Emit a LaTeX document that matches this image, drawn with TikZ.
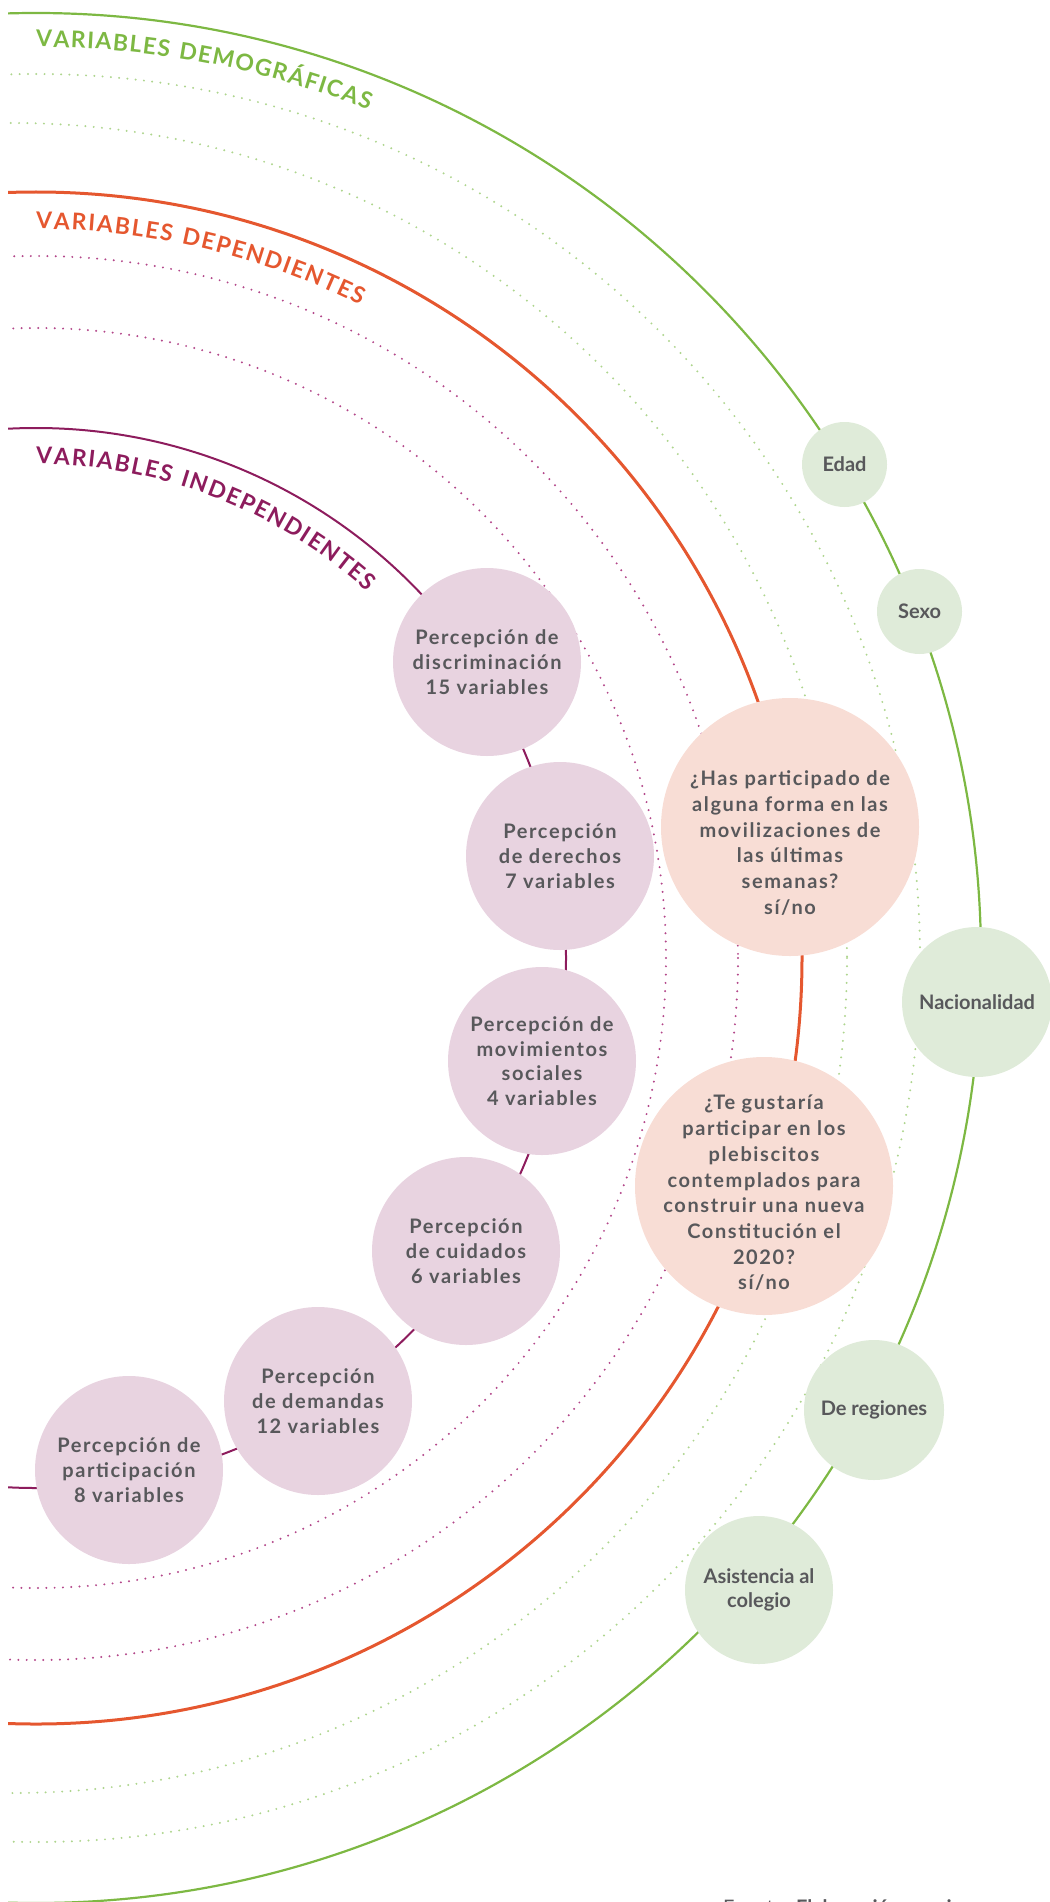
\documentclass[tikz,border=0pt]{standalone}
\usepackage{fontspec}
\setmainfont{Lato}
\newfontfamily\circfont[LetterSpace=8]{Lato}
\newfontfamily\titlefam[LetterSpace=4]{Lato}
\usetikzlibrary{decorations.text}
\definecolor{cgreen}{HTML}{7DB843}
\definecolor{corange}{HTML}{E5572F}
\definecolor{cpurple}{HTML}{8D1C5D}
\definecolor{cgreendot}{HTML}{AED58E}
\definecolor{cpurpledot}{HTML}{B3478A}
\definecolor{fpurple}{HTML}{E8D3E0}
\definecolor{fpink}{HTML}{F8DDD5}
\definecolor{fgreen}{HTML}{DFEBD9}
\definecolor{tgray}{HTML}{58585B}
\newcommand\titlefont{\titlefam\fontsize{23}{27}\selectfont\bfseries}
\begin{document}
\begin{tikzpicture}[x=1pt,y=-1pt,
  greenline/.style={draw=cgreen, line width=2.2pt},
  orangeline/.style={draw=corange, line width=3pt},
  purpleline/.style={draw=cpurple, line width=2pt},
  greendot/.style={draw=cgreendot, line width=2.2pt, line cap=round, dash pattern=on 0pt off 8.3pt},
  purpledot/.style={draw=cpurpledot, line width=2.2pt, line cap=round, dash pattern=on 0pt off 8.3pt},
  txt/.style={text=tgray, align=center, inner sep=0pt},
  pcirc/.style={circle, fill=fpurple, minimum size=188, inner sep=0pt, txt, font=\circfont\bfseries\fontsize{20}{24.7}\selectfont},
  pinkc/.style={circle, fill=fpink, minimum size=258, inner sep=0pt},
  pinktxt/.style={txt, font=\circfont\bfseries\fontsize{20}{25.7}\selectfont},
  greenc/.style={circle, fill=fgreen, inner sep=0pt, txt, font=\bfseries\fontsize{20}{24}\selectfont},
  titletext/.style={decorate, decoration={text along path, text align=fit to path, text={#1}}}
]
\useasboundingbox (0,0) rectangle (1049,1902);
\coordinate (C) at (36,958);
\coordinate (C2) at (12,958);
\begin{scope}
  \clip (8,0) rectangle (1049,1902);
  \draw[greendot] (C2) circle[radius=835];
  \draw[greendot] (C) circle[radius=884];
  \draw[purpledot] (C) circle[radius=702];
  \draw[purpledot] (C) circle[radius=630];
  \draw[greenline] (C) circle[radius=945];
  \draw[orangeline] (C) circle[radius=766];
  \draw[purpleline] (C) circle[radius=530];
\end{scope}

% curved titles
\path[titletext={|\titlefont\color{cgreen}|VARIABLES DEMOGRÁFICAS}]
  ([shift={(C)}]-90:911) arc[start angle=-90, end angle=-68.6, radius=911];
\path[titletext={|\titlefont\color{corange}|VARIABLES DEPENDIENTES}]
  ([shift={(C)}]-90:729) arc[start angle=-90, end angle=-63.6, radius=729];
\path[titletext={|\titlefont\color{cpurple}|VARIABLES INDEPENDIENTES}]
  ([shift={(C)}]-90:494) arc[start angle=-90, end angle=-47.9, radius=494];

% independent variables
\node[pcirc] (p1) at (487,662) {Percepción de\\discriminación\\15 variables};
\node[pcirc] (p2) at (560,856) {Percepción\\de derechos\\7 variables};
\node[pcirc] (p3) at (542,1061) {Percepción de\\movimientos\\sociales\\4 variables};
\node[pcirc] (p4) at (466,1251) {Percepción\\de cuidados\\6 variables};
\node[pcirc] (p5) at (318,1401) {Percepción\\de demandas\\12 variables};
\node[pcirc] (p6) at (129,1470) {Percepción de\\participación\\8 variables};

% dependent variables
\node[pinkc, label={[pinktxt, name=d1t, yshift=-16pt]center:{¿Has participado de\\alguna forma en las\\movilizaciones de\\las últimas\\semanas?\\sí/no}}] (d1) at (790,827) {};
\node[pinkc, label={[pinktxt, name=d2t, yshift=-7pt]center:{¿Te gustaría\\participar en los\\plebiscitos\\contemplados para\\construir una nueva\\Constitución el\\2020?\\sí/no}}] (d2) at (764,1186) {};

% demographic variables
\node[greenc, minimum size=85] (g1) at (844.5,464.5) {Edad};
\node[greenc, minimum size=85] (g2) at (919.5,611.5) {Sexo};
\node[greenc, minimum size=150] (g3) at (977,1002) {Nacionalidad};
\node[greenc, minimum size=140] (g4) at (874,1410) {De regiones};
\node[greenc, minimum size=148] (g5) at (759,1590) {Asistencia al\\colegio};

% source (cut by the lower edge)
\node[anchor=base west, inner sep=0pt, text=tgray, font=\fontsize{20}{24}\selectfont] (src) at (723,1914) {Fuente: \textbf{Elaboración propia}};
\end{tikzpicture}
\end{document}
